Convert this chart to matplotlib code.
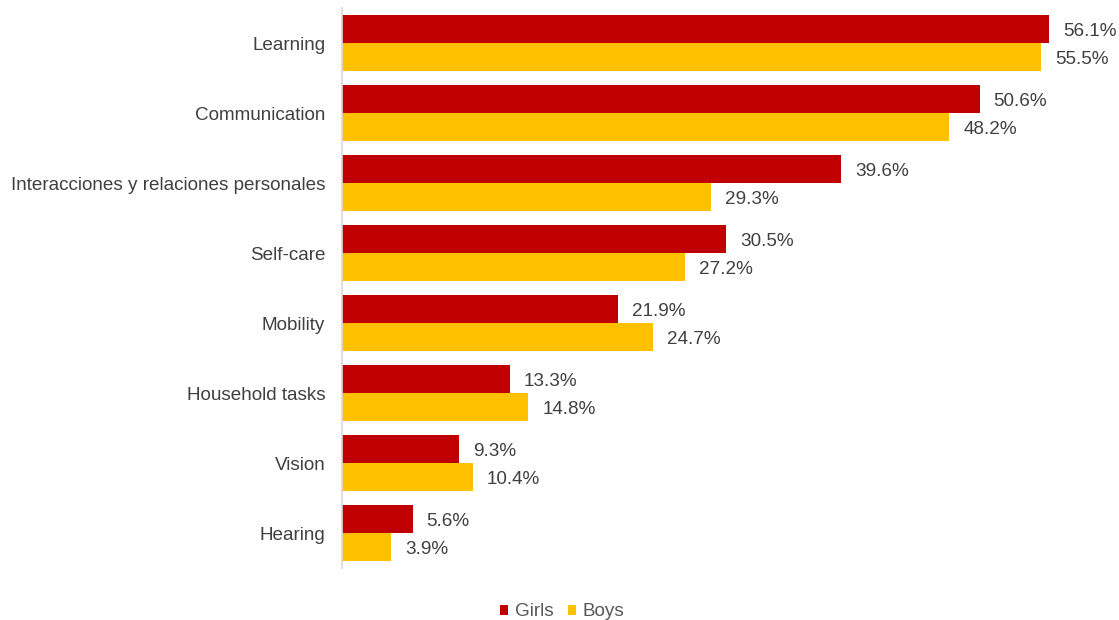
import matplotlib
matplotlib.use("Agg")
import matplotlib.pyplot as plt
import numpy as np

categories = ["Learning", "Communication", "Interacciones y relaciones personales",
              "Self-care", "Mobility", "Household tasks", "Vision", "Hearing"]
girls = [56.1, 50.6, 39.6, 30.5, 21.9, 13.3, 9.3, 5.6]
boys = [55.5, 48.2, 29.3, 27.2, 24.7, 14.8, 10.4, 3.9]
series_names = ["Girls", "Boys"]

RED = "#C00000"
YELLOW = "#FFC000"
TEXT = "#404040"

plt.rcParams["font.family"] = ["Liberation Sans", "DejaVu Sans"]

W, H = 1119, 620
fig = plt.figure(figsize=(W / 100, H / 100), dpi=100)
ax = fig.add_axes([342 / W, (H - 568) / H, (W - 342) / W, 560 / H])

y = np.arange(len(categories))
bh = 0.405
b1 = ax.barh(y - bh / 2, girls, height=bh, color=RED, label=series_names[0])
b2 = ax.barh(y + bh / 2, boys, height=bh, color=YELLOW, label=series_names[1])

for bars, vals in ((b1, girls), (b2, boys)):
    for rect, v in zip(bars, vals):
        ax.annotate(f"{v:.1f}%", (rect.get_width(), rect.get_y() + rect.get_height() / 2),
                    xytext=(10, -2), textcoords="offset points", va="center", ha="left",
                    fontsize=13.6, color=TEXT)

ax.set_ylim(len(categories) - 0.5, -0.5)
ax.set_xlim(0, (W - 342) / 12.6)
ax.set_yticks(y)
ax.set_yticklabels(categories, fontsize=13.6, color=TEXT)
ax.tick_params(axis="y", length=0, pad=12)
ax.set_xticks([])
for s in ("top", "right", "bottom"):
    ax.spines[s].set_visible(False)
ax.spines["left"].set_color("#D9D9D9")
ax.spines["left"].set_linewidth(1.2)

fig.legend(handles=[b1, b2], labels=series_names, loc="center",
           bbox_to_anchor=(562 / W, (H - 612) / H), ncol=2, frameon=False,
           fontsize=13.6, labelcolor="#595959", handlelength=0.45, handleheight=0.45,
           handletextpad=0.35, columnspacing=0.75)

fig.savefig("out.png", dpi=100)
